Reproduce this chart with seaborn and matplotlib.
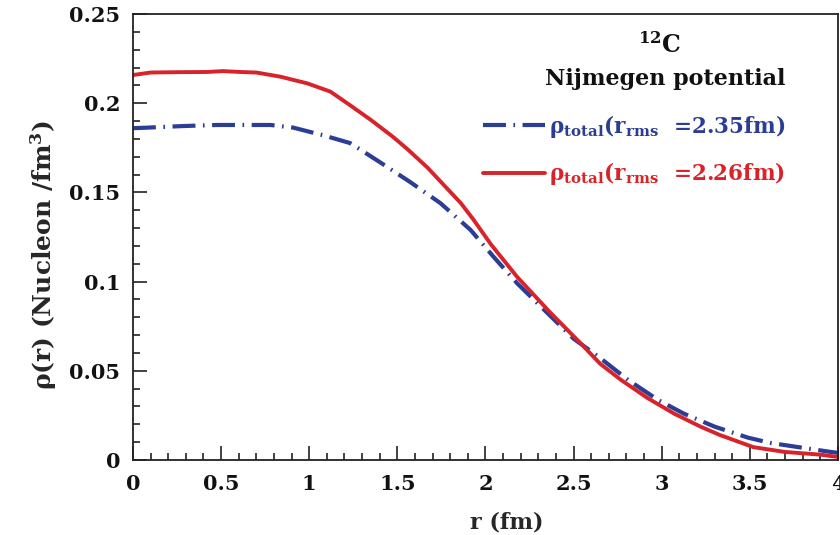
import matplotlib
matplotlib.use("Agg")
import matplotlib.pyplot as plt
import seaborn as sns
import pandas as pd
from matplotlib.ticker import MultipleLocator, FormatStrFormatter

# ---- data ----
r_blue = [0.0, 0.08, 0.284, 0.48, 0.78, 0.91, 1.08, 1.23, 1.29, 1.40, 1.57, 1.744,
          1.915, 2.045, 2.18, 2.5, 2.64, 2.81, 2.98, 3.125, 3.30, 3.49, 3.62, 3.81,
          3.96, 4.0]
rho_blue = [0.186, 0.1863, 0.1872, 0.1878, 0.1878, 0.1863, 0.182, 0.1777, 0.174,
            0.167, 0.156, 0.144, 0.129, 0.114, 0.099, 0.068, 0.058, 0.0448, 0.0336,
            0.026, 0.0187, 0.0125, 0.0095, 0.0067, 0.0045, 0.004]

r_red = [0.0, 0.1, 0.25, 0.42, 0.51, 0.61, 0.7, 0.835, 0.99, 1.12, 1.23, 1.35,
         1.477, 1.56, 1.67, 1.86, 1.93, 2.03, 2.18, 2.37, 2.54, 2.65, 2.77, 2.92,
         3.07, 3.22, 3.33, 3.52, 3.7, 3.9, 4.0]
rho_red = [0.2158, 0.2172, 0.2174, 0.2175, 0.2180, 0.2175, 0.2172, 0.2149, 0.2111,
           0.2065, 0.199, 0.1906, 0.181, 0.174, 0.164, 0.144, 0.135, 0.121, 0.1026,
           0.0824, 0.0654, 0.054, 0.0448, 0.0347, 0.026, 0.0187, 0.014, 0.0072,
           0.0045, 0.0030, 0.0017]

labels = [r"ρ$_{\mathrm{total}}$(r$_{\mathrm{rms}}$  =2.35fm)",
          r"ρ$_{\mathrm{total}}$(r$_{\mathrm{rms}}$  =2.26fm)"]
x_label = "r (fm)"
y_label = r"ρ(r) (Nucleon /fm$^{3}$)"
title_lines = [r"$^{12}$C", "Nijmegen potential"]

BLUE = "#2b3d94"
RED = "#d8232a"

sns.set_theme(style="ticks")
plt.rcParams["font.family"] = ["DejaVu Serif"]
plt.rcParams["font.weight"] = "bold"
plt.rcParams["mathtext.fontset"] = "custom"
plt.rcParams["mathtext.rm"] = "DejaVu Serif:bold"
plt.rcParams["mathtext.it"] = "DejaVu Serif:bold"
plt.rcParams["mathtext.bf"] = "DejaVu Serif:bold"

fig = plt.figure(figsize=(8.4, 5.35), dpi=100)
ax = fig.add_axes([0.1583, 0.1402, 0.8393, 0.8336])

df_b = pd.DataFrame({"r": r_blue, "rho": rho_blue})
df_r = pd.DataFrame({"r": r_red, "rho": rho_red})

sns.lineplot(data=df_b, x="r", y="rho", ax=ax, color=BLUE, linewidth=3.0,
             label=labels[0], sort=False)
sns.lineplot(data=df_r, x="r", y="rho", ax=ax, color=RED, linewidth=2.8,
             label=labels[1], sort=False)
lines = ax.get_lines()
lines[0].set_dashes((5.5, 1.8, 0.4, 1.8))
lines[0].set_dash_capstyle("butt")
lines[1].set_solid_joinstyle("round")

ax.set_xlim(0, 4)
ax.set_ylim(0, 0.25)
ax.xaxis.set_major_locator(MultipleLocator(0.5))
ax.xaxis.set_minor_locator(MultipleLocator(0.1))
ax.yaxis.set_major_locator(MultipleLocator(0.05))
ax.yaxis.set_minor_locator(MultipleLocator(0.01))
ax.xaxis.set_major_formatter(FormatStrFormatter("%g"))
ax.yaxis.set_major_formatter(FormatStrFormatter("%g"))
ax.tick_params(which="both", direction="in", top=False, right=False, width=1.2,
               colors="#222222", labelcolor="#111111")
ax.tick_params(which="major", length=10, labelsize=15)
ax.tick_params(which="minor", length=5)
ax.tick_params(axis="x", which="major", pad=10)
ax.tick_params(axis="y", which="major", pad=9)
for lab in ax.get_xticklabels() + ax.get_yticklabels():
    lab.set_fontweight("bold")
for s in ax.spines.values():
    s.set_linewidth(1.3)
    s.set_color("#222222")

ax.set_xlabel(x_label, fontsize=16, fontweight="bold")
ax.set_ylabel(y_label, fontsize=18, fontweight="bold")
ax.xaxis.set_label_coords(0.53, -0.115)
ax.yaxis.set_label_coords(-0.105, 0.46)

fig.text(0.786, 0.915, title_lines[0], fontsize=17, fontweight="bold",
         ha="center", va="center", color="#111111")
fig.text(0.792, 0.852, title_lines[1], fontsize=16, fontweight="bold",
         ha="center", va="center", color="#111111")

leg = ax.legend(loc="upper left", bbox_to_anchor=(0.565, 0.805),
                bbox_transform=fig.transFigure, frameon=False, fontsize=15.5,
                handlelength=2.85, handletextpad=0.22, labelspacing=0.95,
                borderaxespad=0)
for txt, c in zip(leg.get_texts(), [BLUE, RED]):
    txt.set_color(c)
    txt.set_fontweight("bold")

fig.savefig("out.png", dpi=100, facecolor="white")
